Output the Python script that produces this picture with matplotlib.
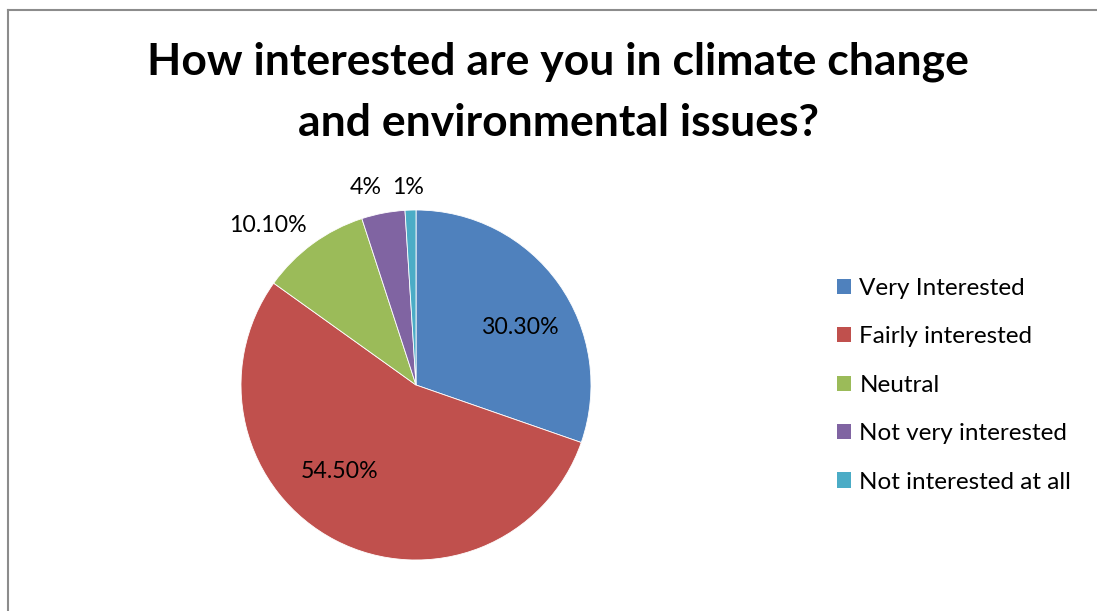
import matplotlib
matplotlib.use("Agg")
import matplotlib.pyplot as plt
from matplotlib.lines import Line2D
from matplotlib.patches import Patch

kategorie = ["Very Interested", "Fairly interested", "Neutral",
             "Not very interested", "Not interested at all"]
wartosci = [30.3, 54.5, 10.1, 4, 1]
etykiety = ["30.30%", "54.50%", "10.10%", "4%", "1%"]
kolory = ["#4F81BD", "#C0504D", "#9BBB59", "#8064A2", "#4BACC6"]

# polozenie etykiet (w jednostkach promienia)
pozycje = [(0.594, 0.331), (-0.434, -0.497), (-0.846, 0.914),
           (-0.286, 1.131), (-0.046, 1.131)]

czcionka = "Lato"

fig = plt.figure(figsize=(10.97, 6.11), dpi=100)
ax = fig.add_axes([241 / 1097, 51 / 611, 350 / 1097, 350 / 611])

ax.pie(wartosci, colors=kolory, startangle=90, counterclock=False,
       radius=1, wedgeprops=dict(edgecolor="white", linewidth=0.6))
ax.set_xlim(-1, 1)
ax.set_ylim(-1, 1)
ax.set_aspect("equal")
ax.axis("off")

for (x, y), t in zip(pozycje, etykiety):
    ax.text(x, y, t, ha="center", va="center", fontsize=16.7,
            family=czcionka, color="black", clip_on=False)

fig.text(558 / 1097, 1 - 62 / 611, "How interested are you in climate change",
         ha="center", va="center", fontsize=32, fontweight="bold",
         family=czcionka)
fig.text(558 / 1097, 1 - 123 / 611, "and environmental issues?",
         ha="center", va="center", fontsize=32, fontweight="bold",
         family=czcionka)

uchwyty = [Patch(facecolor=k, edgecolor="none") for k in kolory]
fig.legend(uchwyty, kategorie, loc="upper left",
           bbox_to_anchor=(827 / 1097, 1 - 268 / 611), frameon=False,
           prop=dict(family=czcionka, size=17.5), handlelength=0.58,
           handleheight=0.58, handletextpad=0.35, labelspacing=1.13,
           borderaxespad=0)

# ramka wykresu
fig.add_artist(Line2D([8 / 1097, 8 / 1097], [0, 1 - 10 / 611],
                      color="#8c8c8c", linewidth=1.5))
fig.add_artist(Line2D([8 / 1097, 1], [1 - 10 / 611, 1 - 10 / 611],
                      color="#8c8c8c", linewidth=1.5))

fig.savefig("out.png", dpi=100)
